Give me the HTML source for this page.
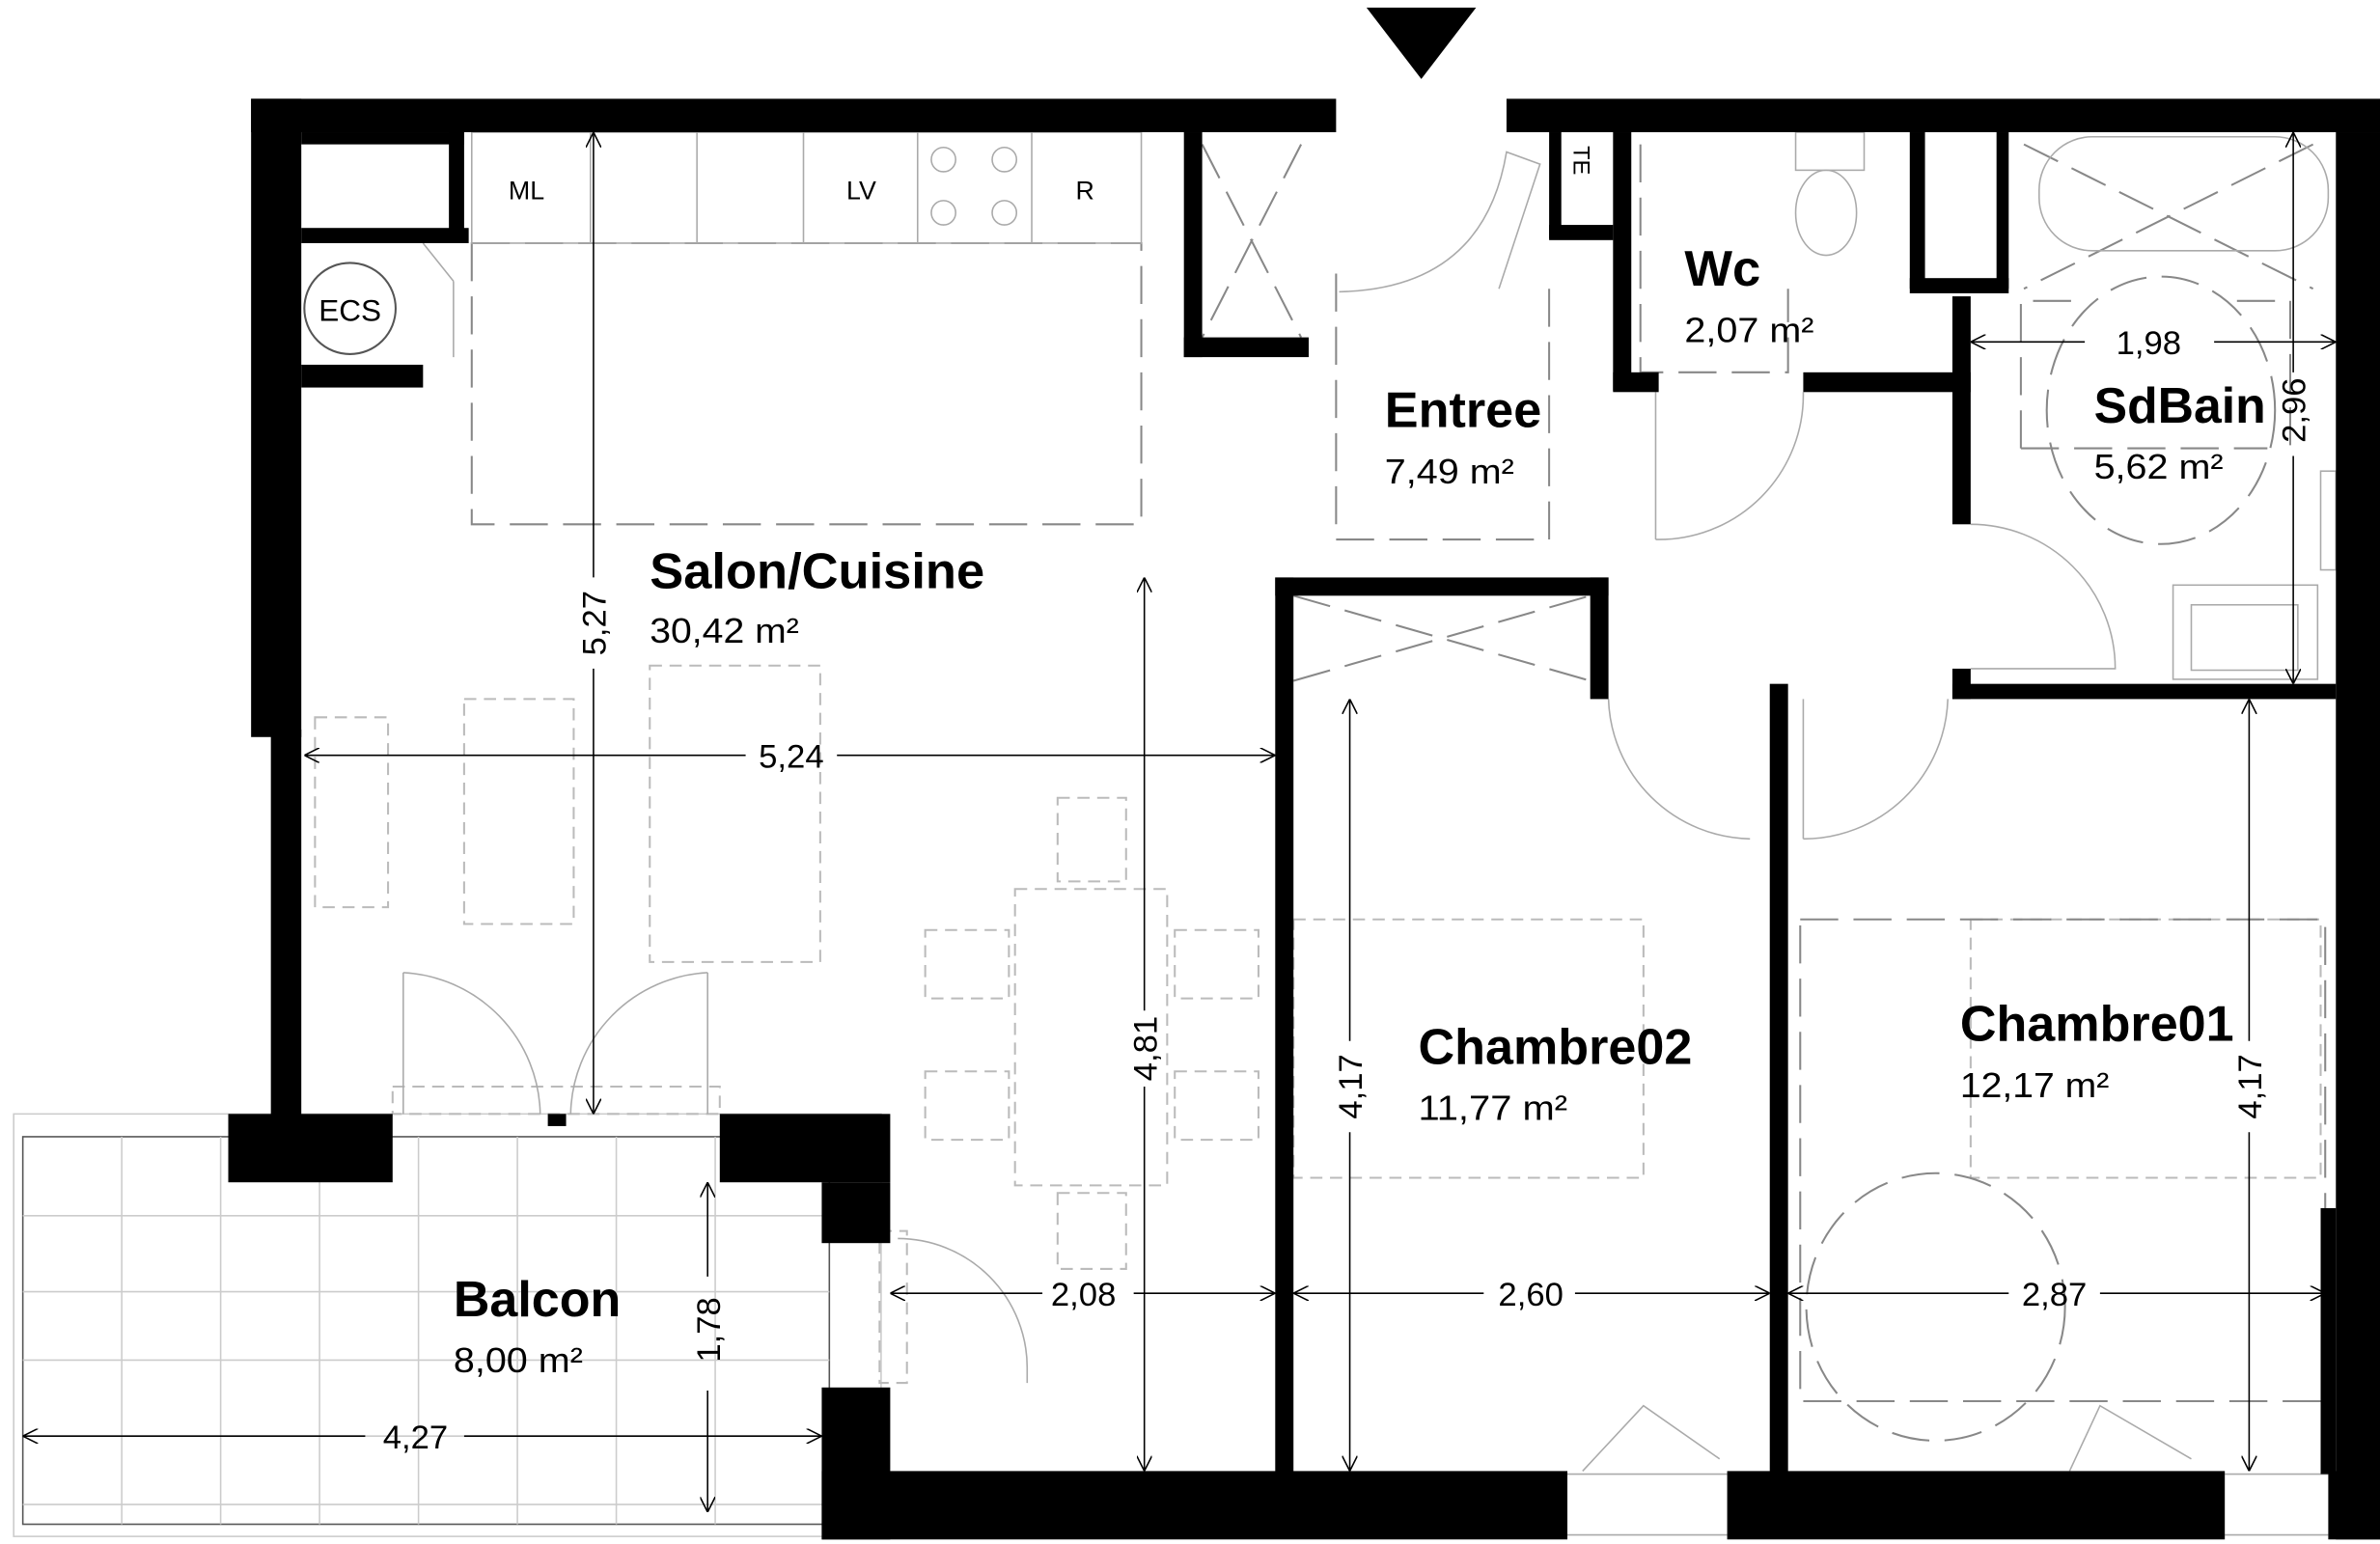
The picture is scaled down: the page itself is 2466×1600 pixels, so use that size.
<!DOCTYPE html>
<html><head><meta charset="utf-8"><style>
html,body{margin:0;padding:0;background:#fff;}
svg{display:block;}
text{font-family:"Liberation Sans",sans-serif;}
.b{font-weight:bold;font-size:33px;}
.a{font-size:23px;}
.d{font-size:22px;}
</style></head><body>
<svg width="2466" height="1600" viewBox="0 0 1564 1016" preserveAspectRatio="none" xmlns="http://www.w3.org/2000/svg">
<defs>
<marker id="ar" viewBox="0 0 10 10" refX="10" refY="5" markerWidth="10" markerHeight="10" orient="auto-start-reverse"><path d="M0,0 L10,5 L0,10" fill="none" stroke="#000" stroke-width="1"/></marker>
</defs>
<!-- balcony -->
<g stroke="#ccc" stroke-width="1" fill="none">
<rect x="9" y="733" width="570" height="278"/>
<rect x="15" y="748" width="530" height="255" stroke="#555"/>
<path d="M80 748V1003M145 748V1003M210 748V1003M275 748V1003M340 748V1003M405 748V1003M470 748V1003M15 800H545M15 850H545M15 895H545M15 945H545M15 990H545"/>
</g>
<!-- furniture dashed grey -->
<g stroke="#bbb" stroke-width="1.3" fill="none" stroke-dasharray="8,5">
<rect x="305" y="460" width="72" height="148"/>
<rect x="427" y="438" width="112" height="195"/>
<rect x="207" y="472" width="48" height="125"/>
<rect x="667" y="585" width="100" height="195"/>
<rect x="695" y="525" width="45" height="55"/>
<rect x="695" y="785" width="45" height="50"/>
<rect x="608" y="612" width="55" height="45"/>
<rect x="608" y="705" width="55" height="45"/>
<rect x="772" y="612" width="55" height="45"/>
<rect x="772" y="705" width="55" height="45"/>
<rect x="850" y="605" width="230" height="170"/>
<rect x="1295" y="605" width="230" height="170"/>
<rect x="258" y="715" width="215" height="18"/>
<rect x="578" y="810" width="18" height="100"/>
</g>
<g stroke="#888" stroke-width="1.3" fill="none" stroke-dasharray="25,10">
<rect x="310" y="160" width="440" height="185"/>
<path d="M878 180V355H1018V180"/>
<path d="M1078 95V245H1175V190"/>
<path d="M1328 295V198H1365M1470 198H1505V295M1328 295H1490"/>
<rect x="1183" y="605" width="345" height="317"/>
<ellipse cx="1272" cy="860" rx="85" ry="88"/>
<ellipse cx="1420" cy="270" rx="75" ry="88"/>
<path d="M850 392L1045 448M850 448L1045 392M790 95L855 222M855 95L790 222M1330 95L1520 190M1520 95L1330 190"/>
</g>
<!-- kitchen appliances -->
<g stroke="#aaa" stroke-width="1" fill="none">
<rect x="310" y="87" width="440" height="73"/>
<path d="M388 87V160M458 87V160M528 87V160M603 87V160M678 87V160"/>
<circle cx="620" cy="105" r="8"/><circle cx="660" cy="105" r="8"/><circle cx="620" cy="140" r="8"/><circle cx="660" cy="140" r="8"/>
<rect x="1340" y="90" width="190" height="75" rx="35"/>
<rect x="1180" y="87" width="45" height="25"/><ellipse cx="1200" cy="140" rx="20" ry="28"/>
<rect x="1428" y="385" width="95" height="62"/><rect x="1440" y="398" width="70" height="43"/>
<rect x="1525" y="310" width="10" height="65"/>
<path d="M880 192Q975 190 990 100L1012 108L985 190 M1088 355V258M1088 355A95 95 0 0 0 1185 258M1295 345A95 95 0 0 1 1390 440H1295M1057 460A95 95 0 0 0 1150 552M1185 552A95 95 0 0 0 1280 460M1185 552V460M265 640V733M265 640A95 95 0 0 1 355 733M465 640V733M465 640A95 95 0 0 0 375 733M590 815A85 85 0 0 1 675 900L675 910M1040 968L1080 925L1130 960M1360 968L1380 925L1440 960M298 185L278 160M298 185L298 235M1030 970H1135M1030 1010H1135M1462 970H1530M1462 1010H1530"/>
</g>
<!-- walls -->
<g fill="#000">
<rect x="165" y="65" width="713" height="22"/>
<rect x="990" y="65" width="574" height="22"/>
<rect x="165" y="65" width="33" height="420"/>
<rect x="178" y="480" width="20" height="255"/>
<rect x="150" y="733" width="108" height="45"/>
<rect x="360" y="733" width="12" height="8"/>
<rect x="473" y="733" width="112" height="45"/>
<rect x="540" y="778" width="45" height="40"/>
<rect x="540" y="913" width="45" height="100"/>
<rect x="540" y="968" width="490" height="45"/>
<rect x="1135" y="968" width="327" height="45"/>
<rect x="1530" y="968" width="34" height="45"/>
<rect x="1535" y="87" width="29" height="926"/>
<rect x="1525" y="795" width="10" height="175"/>
<rect x="198" y="150" width="110" height="10"/>
<rect x="198" y="240" width="80" height="15"/>
<rect x="295" y="87" width="10" height="70"/>
<rect x="198" y="87" width="107" height="8"/>
<rect x="838" y="380" width="12" height="590"/>
<rect x="838" y="380" width="219" height="12"/>
<rect x="1045" y="380" width="12" height="80"/>
<rect x="1163" y="450" width="12" height="520"/>
<rect x="1283" y="450" width="252" height="10"/>
<rect x="1283" y="195" width="12" height="150"/>
<rect x="1283" y="440" width="12" height="20"/>
<rect x="1060" y="87" width="12" height="170"/>
<rect x="1060" y="245" width="30" height="13"/>
<rect x="1185" y="245" width="110" height="13"/>
<rect x="778" y="87" width="12" height="148"/>
<rect x="778" y="222" width="82" height="13"/>
<rect x="1255" y="87" width="10" height="103"/>
<rect x="1255" y="183" width="65" height="10"/>
<rect x="1312" y="87" width="8" height="103"/>
<rect x="1018" y="87" width="8" height="70"/>
<rect x="1018" y="148" width="42" height="10"/>
</g>
<polygon points="898,5 970,5 934,52" fill="#000"/>
<circle cx="230" cy="203" r="30" fill="none" stroke="#555" stroke-width="1.3"/>
<!-- dimensions -->
<g stroke="#000" stroke-width="1" fill="none">
<path d="M200 497H490M550 497H838" marker-start="url(#ar)" marker-end="url(#ar)"/>
<path d="M390 87V380M390 440V733" marker-start="url(#ar)" marker-end="url(#ar)"/>
<path d="M752 380V665M752 715V968" marker-start="url(#ar)" marker-end="url(#ar)"/>
<path d="M887 460V685M887 745V968" marker-start="url(#ar)" marker-end="url(#ar)"/>
<path d="M1478 460V685M1478 745V968" marker-start="url(#ar)" marker-end="url(#ar)"/>
<path d="M585 851H685M745 851H838" marker-start="url(#ar)" marker-end="url(#ar)"/>
<path d="M850 851H975M1035 851H1163" marker-start="url(#ar)" marker-end="url(#ar)"/>
<path d="M1175 851H1320M1380 851H1528" marker-start="url(#ar)" marker-end="url(#ar)"/>
<path d="M1295 225H1370M1455 225H1535" marker-start="url(#ar)" marker-end="url(#ar)"/>
<path d="M1507 87V245M1507 300V450" marker-start="url(#ar)" marker-end="url(#ar)"/>
<path d="M15 945H240M305 945H540" marker-start="url(#ar)" marker-end="url(#ar)"/>
<path d="M465 778V840M465 915V995" marker-start="url(#ar)" marker-end="url(#ar)"/>
</g>
<g class="d" fill="#000">
<text x="520" y="505" text-anchor="middle">5,24</text>
<text x="712" y="859" text-anchor="middle">2,08</text>
<text x="1006" y="859" text-anchor="middle">2,60</text>
<text x="1350" y="859" text-anchor="middle">2,87</text>
<text x="1412" y="233" text-anchor="middle">1,98</text>
<text x="273" y="953" text-anchor="middle">4,27</text>
<text transform="translate(398,410) rotate(-90)" text-anchor="middle">5,27</text>
<text transform="translate(760,690) rotate(-90)" text-anchor="middle">4,81</text>
<text transform="translate(895,715) rotate(-90)" text-anchor="middle">4,17</text>
<text transform="translate(1486,715) rotate(-90)" text-anchor="middle">4,17</text>
<text transform="translate(1515,270) rotate(-90)" text-anchor="middle">2,96</text>
<text transform="translate(473,875) rotate(-90)" text-anchor="middle">1,78</text>
<text x="230" y="211" text-anchor="middle" font-size="20">ECS</text>
<text x="346" y="131" text-anchor="middle" font-size="17">ML</text>
<text x="566" y="131" text-anchor="middle" font-size="17">LV</text>
<text x="713" y="131" text-anchor="middle" font-size="17">R</text>
<text transform="translate(1034,96) rotate(90)" font-size="15">TE</text>
</g>
<g fill="#000">
<text class="b" x="427" y="387" textLength="220" lengthAdjust="spacingAndGlyphs">Salon/Cuisine</text>
<text class="a" x="427" y="423" textLength="98" lengthAdjust="spacingAndGlyphs">30,42 m²</text>
<text class="b" x="910" y="281" textLength="103" lengthAdjust="spacingAndGlyphs">Entree</text>
<text class="a" x="910" y="318" textLength="85" lengthAdjust="spacingAndGlyphs">7,49 m²</text>
<text class="b" x="1107" y="188" textLength="50" lengthAdjust="spacingAndGlyphs">Wc</text>
<text class="a" x="1107" y="225" textLength="85" lengthAdjust="spacingAndGlyphs">2,07 m²</text>
<text class="b" x="1376" y="278" textLength="113" lengthAdjust="spacingAndGlyphs">SdBain</text>
<text class="a" x="1376" y="315" textLength="85" lengthAdjust="spacingAndGlyphs">5,62 m²</text>
<text class="b" x="932" y="700" textLength="180" lengthAdjust="spacingAndGlyphs">Chambre02</text>
<text class="a" x="932" y="737" textLength="98" lengthAdjust="spacingAndGlyphs">11,77 m²</text>
<text class="b" x="1288" y="685" textLength="180" lengthAdjust="spacingAndGlyphs">Chambre01</text>
<text class="a" x="1288" y="722" textLength="98" lengthAdjust="spacingAndGlyphs">12,17 m²</text>
<text class="b" x="298" y="866" textLength="110" lengthAdjust="spacingAndGlyphs">Balcon</text>
<text class="a" x="298" y="903" textLength="85" lengthAdjust="spacingAndGlyphs">8,00 m²</text>
</g>
</svg>
</body></html>
